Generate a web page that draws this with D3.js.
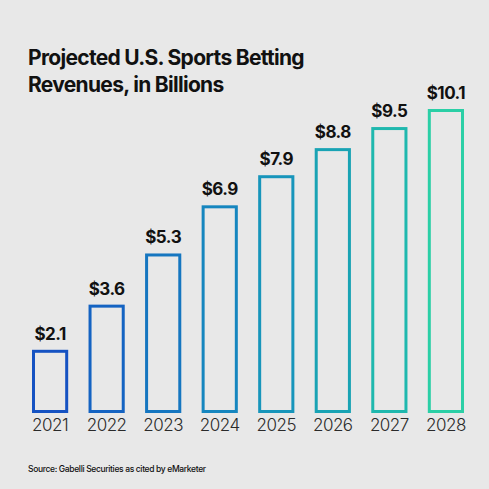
<!DOCTYPE html>
<html><head><meta charset="utf-8">
<script src="https://cdn.jsdelivr.net/npm/d3@7"></script>
<style>html,body{margin:0;padding:0;background:#e8e8e8;}svg{display:block;}</style>
</head><body>
<svg id="c" width="489" height="489"></svg>
<script>
const years = ["2021","2022","2023","2024","2025","2026","2027","2028"];
const revenues = [2.1,3.6,5.3,6.9,7.9,8.8,9.5,10.1];
const labels = ["$2.1","$3.6","$5.3","$6.9","$7.9","$8.8","$9.5","$10.1"];
const colors = ["#1552c2","#1463c2","#1576c0","#1686bf","#1795bb","#19a3b4","#1fb8ae","#2bcfa6"];
const titleLines = ["Projected U.S. Sports Betting","Revenues, in Billions"];
const source = "Source: Gabelli Securities as cited by eMarketer";

const svg = d3.select("#c");
const W=489,H=489;
svg.append("rect").attr("width",W).attr("height",H).attr("fill","#e8e8e8");
const font = "Inter, 'Noto Sans', sans-serif";

const x = d3.scaleBand().domain(years).range([32,464]).paddingInner(0.36).paddingOuter(0);
const y = d3.scaleLinear().domain([0,10.1]).range([413,109]);
const sw = 3;

const g = svg.append("g");
g.selectAll("rect.bar").data(years).join("rect").attr("class","bar")
  .attr("x",d=>x(d)+sw/2)
  .attr("y",(d,i)=>y(revenues[i])+sw/2)
  .attr("width",x.bandwidth()-sw)
  .attr("height",(d,i)=>y(0)-y(revenues[i])-sw)
  .attr("fill","none")
  .attr("stroke",(d,i)=>colors[i])
  .attr("stroke-width",sw);

g.selectAll("text.val").data(years).join("text").attr("class","val")
  .attr("x",d=>x(d)+x.bandwidth()/2)
  .attr("y",(d,i)=>y(revenues[i])-10)
  .attr("text-anchor","middle")
  .attr("font-family",font).attr("font-weight",700).attr("font-size",17)
  .attr("fill","#111").attr("letter-spacing","-0.5")
  .text((d,i)=>labels[i]);

g.selectAll("text.yr").data(years).join("text").attr("class","yr")
  .attr("x",d=>x(d)+x.bandwidth()/2)
  .attr("y",431)
  .attr("text-anchor","middle")
  .attr("font-family",font).attr("font-weight",300).attr("font-size",17)
  .attr("fill","#2a2a2a").attr("letter-spacing","-0.5")
  .text(d=>d);

svg.selectAll("text.title").data(titleLines).join("text").attr("class","title")
  .attr("x",28).attr("y",(d,i)=>65+i*27)
  .attr("font-family",font).attr("font-weight",700).attr("font-size",21)
  .attr("fill","#111").attr("letter-spacing","-0.7")
  .text(d=>d);

svg.append("text").attr("x",28).attr("y",472)
  .attr("font-family",font).attr("font-weight",500).attr("font-size",8.5)
  .attr("fill","#111").attr("letter-spacing","-0.35")
  .text(source);
</script>
</body></html>
